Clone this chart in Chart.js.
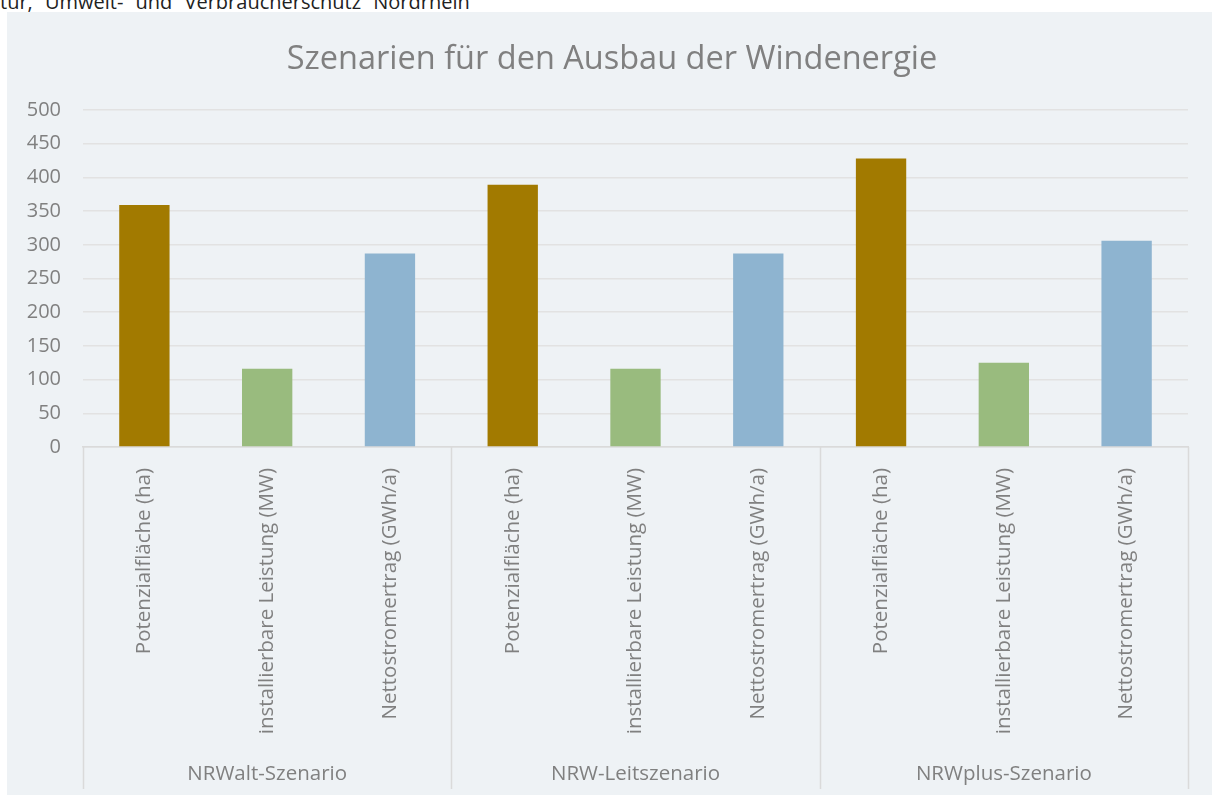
<!DOCTYPE html>
<html>
<head>
<meta charset="utf-8">
<script src="https://cdn.jsdelivr.net/npm/chart.js@4"></script>
<style>
  html, body { margin: 0; padding: 0; background: #ffffff; width: 1212px; height: 795px; overflow: hidden; }
  #cut { position: absolute; left: 0; top: -8px; font-family: "Open Sans", sans-serif; font-size: 20px; line-height: 20px; color: #222; white-space: nowrap; word-spacing: 7px; }
  #panel { position: absolute; left: 7px; top: 12px; width: 1205px; height: 783px; background: #EEF2F5; }
  canvas { position: absolute; left: 0; top: 0; }
</style>
</head>
<body>
<div id="cut">tur, Umwelt- und Verbraucherschutz Nordrhein</div>
<div id="panel"><canvas id="c" width="1205" height="783"></canvas></div>
<script>
const chartTitle = "Szenarien für den Ausbau der Windenergie";
const groups = ["NRWalt-Szenario", "NRW-Leitszenario", "NRWplus-Szenario"];
const metrics = ["Potenzialfläche (ha)", "installierbare Leistung (MW)", "Nettostromertrag (GWh/a)"];
const categories = ["Potenzialfläche (ha)", "installierbare Leistung (MW)", "Nettostromertrag (GWh/a)",
                    "Potenzialfläche (ha)", "installierbare Leistung (MW)", "Nettostromertrag (GWh/a)",
                    "Potenzialfläche (ha)", "installierbare Leistung (MW)", "Nettostromertrag (GWh/a)"];
const values = [359, 116, 287, 389, 116, 287, 428, 125, 306];
const barColors = ["#A27A00", "#99BB7E", "#8EB4D0", "#A27A00", "#99BB7E", "#8EB4D0", "#A27A00", "#99BB7E", "#8EB4D0"];
const yTicks = [0, 50, 100, 150, 200, 250, 300, 350, 400, 450, 500];

const FONT = '"Open Sans", sans-serif';
const GREY = '#808080';

const groupPlugin = {
  id: 'groupPlugin',
  afterDraw(chart) {
    const x = chart.scales.x;
    const ctx = chart.ctx;
    const n = categories.length;
    const per = n / groups.length;
    const slot = (x.getPixelForValue(1) - x.getPixelForValue(0));
    const top = chart.chartArea.bottom;
    const bottom = chart.height - 6;
    ctx.save();
    ctx.strokeStyle = '#DADADA';
    ctx.lineWidth = 1.5;
    for (let g = 0; g <= groups.length; g++) {
      const idx = g * per;
      const px = x.getPixelForValue(0) - slot / 2 + idx * slot;
      ctx.beginPath();
      ctx.moveTo(Math.round(px) + 0.5, top);
      ctx.lineTo(Math.round(px) + 0.5, bottom);
      ctx.stroke();
    }
    ctx.fillStyle = GREY;
    ctx.font = '20.5px ' + FONT;
    ctx.textAlign = 'center';
    ctx.textBaseline = 'middle';
    groups.forEach((gname, g) => {
      const cx = (x.getPixelForValue(g * per) + x.getPixelForValue(g * per + per - 1)) / 2;
      ctx.fillText(gname, cx, chart.height - 21);
    });
    // chart title
    ctx.font = '32.5px ' + FONT;
    ctx.fillText(chartTitle, 605, 47.5);
    ctx.restore();
  }
};

new Chart(document.getElementById('c'), {
  type: 'bar',
  data: {
    labels: categories,
    datasets: [{
      data: values,
      backgroundColor: barColors,
      borderWidth: 0,
      categoryPercentage: 1.0,
      barPercentage: 0.41
    }]
  },
  options: {
    responsive: false,
    animation: false,
    devicePixelRatio: 1,
    layout: { padding: { left: 0, right: 24, top: 98, bottom: 0 } },
    plugins: {
      legend: { display: false },
      tooltip: { enabled: false },
      title: { display: false }
    },
    scales: {
      x: {
        grid: { display: false },
        border: { display: true, color: '#DADADA', width: 1.5 },
        ticks: {
          color: GREY,
          font: { family: FONT, size: 20.5 },
          minRotation: 90,
          maxRotation: 90,
          autoSkip: false,
          padding: 13
        },
        afterFit(scale) { scale.height = 348; }
      },
      y: {
        min: 0,
        max: 500,
        afterBuildTicks(scale) { scale.ticks = yTicks.map(v => ({ value: v })); },
        grid: { color: '#E2E2E2', lineWidth: 1.5, drawTicks: false },
        border: { display: false },
        ticks: {
          color: GREY,
          font: { family: FONT, size: 20 },
          padding: 22
        },
        afterFit(scale) { scale.width = 76; }
      }
    }
  },
  plugins: [groupPlugin]
});
</script>
</body>
</html>
